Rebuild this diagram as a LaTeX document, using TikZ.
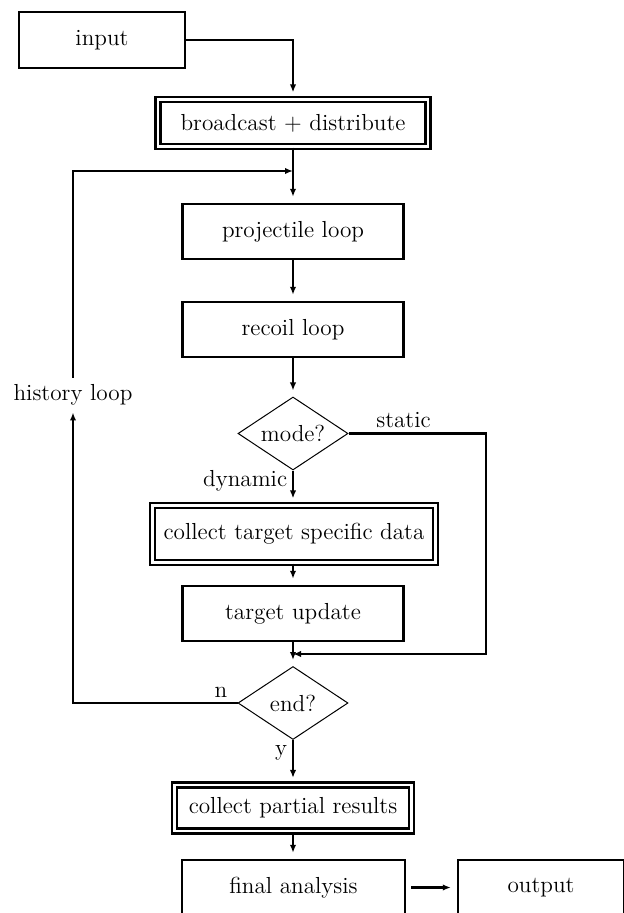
\documentclass[tikz,border=0pt]{standalone}
\usetikzlibrary{shapes.geometric,arrows.meta}
\begin{document}
\begin{tikzpicture}[x=.5pt,y=-.5pt,>={Latex[length=4pt,width=3.2pt]},
  font=\fontsize{11.6}{14}\selectfont, line join=miter,
  box/.style={draw,line width=1.2pt,minimum width=110.5pt,minimum height=27.5pt,inner sep=0pt},
  dbox/.style={draw,line width=1.1pt,double,double distance=1.4pt,inner sep=0pt},
  ask/.style={draw,diamond,line width=.5pt,aspect=1.5,inner sep=0pt,minimum width=55pt,minimum height=36.5pt},
  flow/.style={->,line width=1.2pt,shorten >=3pt}]
\useasboundingbox (0,0) rectangle (623,913);
% Knoten
\node[box,minimum width=83pt,minimum height=28pt] (input) at (102,40) {input};
\node[dbox,minimum width=135pt,minimum height=23.5pt] (bcast) at (293,123) {broadcast + distribute};
\node[box] (proj) at (293,231.5) {projectile loop};
\node[box] (recoil) at (293,329.5) {recoil loop};
\node[ask] (mode) at (293,433.5) {mode?};
\node[dbox,minimum width=141.5pt,minimum height=28.5pt] (ctsd) at (294,534) {collect target specific data};
\node[box] (tupd) at (293,613.5) {target update};
\node[ask] (end) at (293,703) {end?};
\node[dbox,minimum width=118.5pt,minimum height=23pt] (cpr) at (293,808) {collect partial results};
\node[box,minimum width=111.5pt] (final) at (293.5,887.5) {final analysis};
\node[box,minimum width=83pt] (output) at (541,887.5) {output};
\node (hist) at (73,395) {history loop};
\coordinate (join) at (293,171);
\coordinate (merge) at (293,654);
% Verbindungen
\draw[flow] (input.east) -| (bcast.north);
\draw[flow] (bcast.south) -- (proj.north);
\draw[flow] (proj) -- (recoil);
\draw[flow] (recoil) -- (mode.north);
\draw[flow] (mode.south) -- node[pos=.3,left=-1pt] (dyn) {dynamic} (mode.south |- ctsd.north);
\draw[flow] (ctsd.south -| tupd) -- (tupd);
\draw[flow] (tupd) -- (end.north);
\draw[->,line width=1.2pt] (mode.east) -- node[pos=.4,above=-1pt] (stat) {static} (486,433.5) |- (merge);
\draw[->,line width=1.2pt] (end.west) -- node[pos=.1,above=-1pt] (no) {n} (73,703) -- (hist.south);
\draw[->,line width=1.2pt] (hist.north) |- (join);
\draw[flow] (end.south) -- node[pos=.3,left=-1pt] (yes) {y} (cpr.north);
\draw[flow] (cpr.south) -- (cpr.south |- final.north);
\draw[flow,shorten <=2.5pt] (final) -- (output);
\end{tikzpicture}
\end{document}
